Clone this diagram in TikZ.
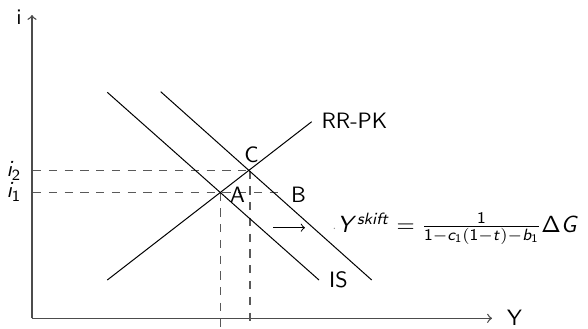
\documentclass[tikz,border=0pt]{standalone}
\DeclareSymbolFont{sfup}{OT1}{cmss}{m}{n}
\DeclareSymbolFont{sfsl}{OT1}{cmss}{m}{sl}
\DeclareSymbolFontAlphabet{\myup}{sfup}
\DeclareSymbolFontAlphabet{\myit}{sfsl}
\begin{document}
\begin{tikzpicture}[x=0.45pt,y=-0.45pt,
  font=\sffamily,
  axis/.style={draw=black!70,line width=0.6pt,->},
  curve/.style={draw=black,line width=0.45pt},
  guide/.style={draw=black!65,line width=0.6pt,dash pattern=on 3.7pt off 3.4pt},
  lbl/.style={inner sep=0pt}]
\useasboundingbox (0,0) rectangle (588,328);
% coordinates
\coordinate (O) at (32,318.3);
\coordinate (ytop) at (32,15);
\coordinate (xend) at (492,318.3);
\coordinate (IS1a) at (107.3,92.3);
\coordinate (IS1b) at (319,280);
\coordinate (IS2a) at (160.7,91.7);
\coordinate (IS2b) at (371.7,280);
\coordinate (RRa) at (107.3,280);
\coordinate (RRb) at (311.7,121.7);
\coordinate (A) at (220.5,192.5);
\coordinate (C) at (250,170.5);
\coordinate (Bp) at (279,192.5);
\coordinate (i1) at (33,192.5);
\coordinate (i2) at (33,170.5);
\coordinate (Abot) at (220.5,328);
\coordinate (Cbot) at (250,322);
\coordinate (arrA) at (273,227.7);
\coordinate (arrB) at (305,227.7);
% axes
\draw[axis] (O) -- (ytop);
\draw[axis] (O) -- (xend);
% guides
\draw[guide] (i2) -- (C);
\draw[guide] (i1) -- (Bp);
\draw[guide] (A) -- (Abot);
\draw[guide] (C) -- (Cbot);
% curves
\draw[curve] (IS1a) -- (IS1b);
\draw[curve] (IS2a) -- (IS2b);
\draw[curve] (RRa) -- (RRb);
\draw[curve,->] (arrA) -- (arrB);
% labels
\node[lbl] (ilab) at (19,17) {i};
\node[lbl] (Ylab) at (514.5,318) {Y};
\node[lbl] (i2lab) at (14,171) {$\myit{i}_{\myup{2}}$};
\node[lbl] (i1lab) at (14,192) {$\myit{i}_{\myup{1}}$};
\node[lbl] (Alab) at (237.5,194.5) {A};
\node[lbl] (Clab) at (251.5,154.5) {C};
\node[lbl] (Blab) at (298.5,194.5) {B};
\node[lbl] (ISlab) at (338.5,280) {IS};
\node[lbl] (RRlab) at (354.5,121) {RR-PK};
\fill[black!45] (334.3,228.3) circle (0.7);
\node[lbl,anchor=base west] (form) at (337,232.5) {\scalebox{1.05}{$\myit{Y}^{\myit{skift}} = \frac{\myup{1}}{\myup{1}-\myit{c}_{\myup{1}}(\myup{1}-\myit{t})-\myit{b}_{\myup{1}}}\myup{\Delta}\myit{G}$}};
\end{tikzpicture}
\end{document}
